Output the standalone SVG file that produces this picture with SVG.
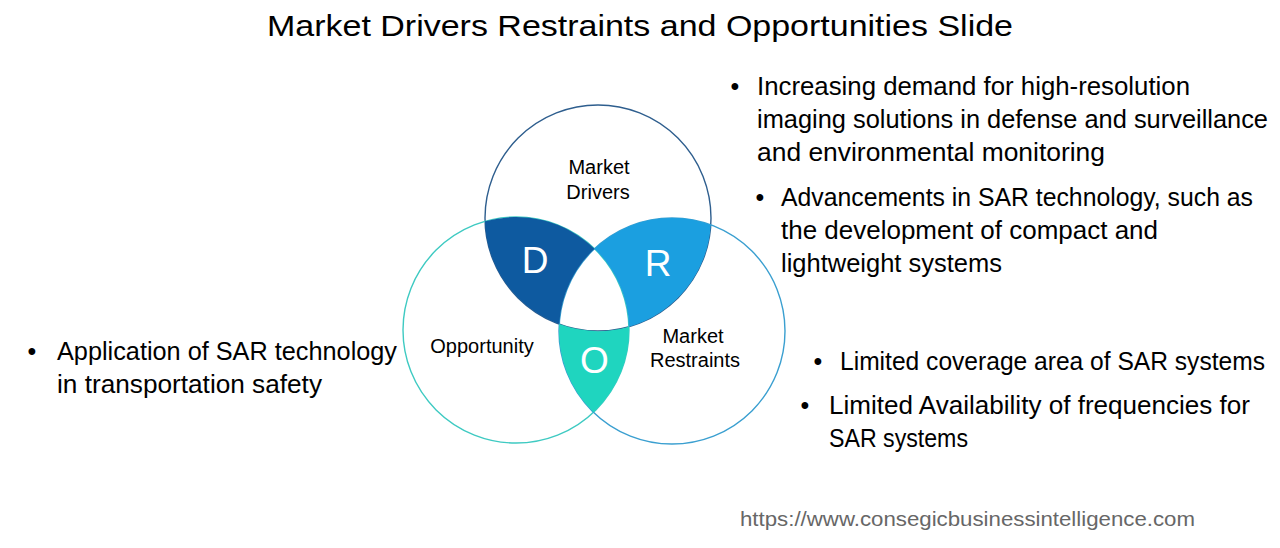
<svg xmlns="http://www.w3.org/2000/svg" width="1280" height="548" viewBox="0 0 1280 548">
  <style>
    .t { font-family: "Liberation Sans", Arial, sans-serif; fill: #000; }
    .body { font-size: 25px; }
    .lbl { font-size: 20px; text-anchor: middle; }
    .big { font-size: 37px; fill: #fff; text-anchor: middle; }
    .ring { fill: none; stroke-width: 1.4; }
  </style>
  <rect width="1280" height="548" fill="#fff"/>

  <g id="title">
    <text class="t" x="267" y="36" font-size="29" textLength="746" lengthAdjust="spacingAndGlyphs">Market Drivers Restraints and Opportunities Slide</text>
  </g>

  <g id="circles">
    <circle id="circle-drivers" class="ring" cx="598" cy="218" r="113" stroke="#2e5e8e"/>
    <circle id="circle-opportunity" class="ring" cx="516" cy="330" r="113" stroke="#3ecac2"/>
    <circle id="circle-restraints" class="ring" cx="672" cy="331" r="113" stroke="#3a9fd0"/>
  </g>

  <g id="node-D">
    <path d="M485.0,221.3 A113,113 0 0 1 594.5,248.7 A113,113 0 0 0 559.2,324.1 A113,113 0 0 1 485.0,221.3 Z" fill="#0e5aa0"/>
    <text class="t big" x="535" y="273">D</text>
  </g>
  <g id="node-R">
    <path d="M594.5,248.7 A113,113 0 0 1 710.8,224.9 A113,113 0 0 1 629.0,326.7 A113,113 0 0 0 594.5,248.7 Z" fill="#1b9fe0"/>
    <text class="t big" x="658" y="276">R</text>
  </g>
  <g id="node-O">
    <path d="M559.2,324.1 A113,113 0 0 0 629.0,326.7 A113,113 0 0 1 593.5,412.3 A113,113 0 0 1 559.2,324.1 Z" fill="#1fd5bf"/>
    <text class="t big" x="594.5" y="373">O</text>
  </g>

  <g id="node-drivers-label">
    <text class="t lbl" x="599" y="174">Market</text>
    <text class="t lbl" x="598" y="199">Drivers</text>
  </g>
  <g id="node-opportunity-label">
    <text class="t lbl" x="482" y="353">Opportunity</text>
  </g>
  <g id="node-restraints-label">
    <text class="t lbl" x="693" y="343">Market</text>
    <text class="t lbl" x="695" y="367">Restraints</text>
  </g>

  <g id="connectors"></g>

  <g id="drivers-text">
    <text class="t body" x="735" y="95" text-anchor="middle">•</text>
    <text class="t body" x="757" y="95" textLength="433" lengthAdjust="spacingAndGlyphs">Increasing demand for high-resolution</text>
    <text class="t body" x="757" y="128" textLength="511" lengthAdjust="spacingAndGlyphs">imaging solutions in defense and surveillance</text>
    <text class="t body" x="757" y="161" textLength="348" lengthAdjust="spacingAndGlyphs">and environmental monitoring</text>
    <text class="t body" x="760" y="206" text-anchor="middle">•</text>
    <text class="t body" x="781" y="206" textLength="472" lengthAdjust="spacingAndGlyphs">Advancements in SAR technology, such as</text>
    <text class="t body" x="781" y="239" textLength="377" lengthAdjust="spacingAndGlyphs">the development of compact and</text>
    <text class="t body" x="781" y="272" textLength="221" lengthAdjust="spacingAndGlyphs">lightweight systems</text>
  </g>

  <g id="restraints-text">
    <text class="t body" x="818" y="370" text-anchor="middle">•</text>
    <text class="t body" x="840" y="370" textLength="425" lengthAdjust="spacingAndGlyphs">Limited coverage area of SAR systems</text>
    <text class="t body" x="805" y="414" text-anchor="middle">•</text>
    <text class="t body" x="829" y="414" textLength="421" lengthAdjust="spacingAndGlyphs">Limited Availability of frequencies for</text>
    <text class="t body" x="829" y="447" textLength="139" lengthAdjust="spacingAndGlyphs">SAR systems</text>
  </g>

  <g id="opportunity-text">
    <text class="t body" x="32" y="360" text-anchor="middle">•</text>
    <text class="t body" x="57" y="360" textLength="340" lengthAdjust="spacingAndGlyphs">Application of SAR technology</text>
    <text class="t body" x="57" y="393" textLength="265" lengthAdjust="spacingAndGlyphs">in transportation safety</text>
  </g>

  <g id="source">
    <text class="t" x="740" y="526" font-size="21" fill="#676767" style="fill:#676767" textLength="455" lengthAdjust="spacingAndGlyphs">https://www.consegicbusinessintelligence.com</text>
  </g>
</svg>
